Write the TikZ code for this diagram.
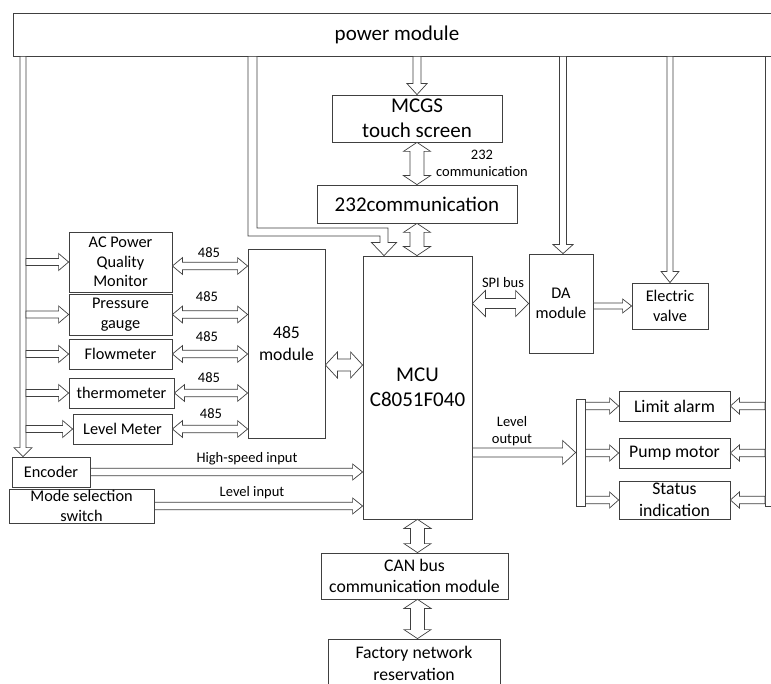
\documentclass[tikz,border=0pt]{standalone}
\usepackage{fontspec}
\setmainfont{Carlito}
\usetikzlibrary{calc}
\newcommand\fs[2]{\fontsize{#1pt}{#2pt}\selectfont}
% single-headed block arrow: from, to, half shaft, half head, head length
\newcommand\sarr[5]{%
\draw[blk] let \p1=(#1), \p2=(#2), \n1={veclen(\x2-\x1,\y2-\y1)}, \n2={(\x2-\x1)/\n1}, \n3={(\y2-\y1)/\n1} in
 ({\x1-(\n3)*#3},{\y1+(\n2)*#3})
 -- ({\x2-(\n2)*#5-(\n3)*#3},{\y2-(\n3)*#5+(\n2)*#3})
 -- ({\x2-(\n2)*#5-(\n3)*#4},{\y2-(\n3)*#5+(\n2)*#4})
 -- (\p2)
 -- ({\x2-(\n2)*#5+(\n3)*#4},{\y2-(\n3)*#5-(\n2)*#4})
 -- ({\x2-(\n2)*#5+(\n3)*#3},{\y2-(\n3)*#5-(\n2)*#3})
 -- ({\x1+(\n3)*#3},{\y1-(\n2)*#3}) -- cycle;}
% double-headed block arrow
\newcommand\darr[5]{%
\draw[blk] let \p1=(#1), \p2=(#2), \n1={veclen(\x2-\x1,\y2-\y1)}, \n2={(\x2-\x1)/\n1}, \n3={(\y2-\y1)/\n1} in
 (\p1)
 -- ({\x1+(\n2)*#5-(\n3)*#4},{\y1+(\n3)*#5+(\n2)*#4})
 -- ({\x1+(\n2)*#5-(\n3)*#3},{\y1+(\n3)*#5+(\n2)*#3})
 -- ({\x2-(\n2)*#5-(\n3)*#3},{\y2-(\n3)*#5+(\n2)*#3})
 -- ({\x2-(\n2)*#5-(\n3)*#4},{\y2-(\n3)*#5+(\n2)*#4})
 -- (\p2)
 -- ({\x2-(\n2)*#5+(\n3)*#4},{\y2-(\n3)*#5-(\n2)*#4})
 -- ({\x2-(\n2)*#5+(\n3)*#3},{\y2-(\n3)*#5-(\n2)*#3})
 -- ({\x1+(\n2)*#5+(\n3)*#3},{\y1+(\n3)*#5-(\n2)*#3})
 -- ({\x1+(\n2)*#5+(\n3)*#4},{\y1+(\n3)*#5-(\n2)*#4}) -- cycle;}
\tikzset{
 box/.style={draw=black!75, line width=0.8pt, fill=white, inner sep=0pt, align=center, text=black},
 tbig/.style={font=\fs{21}{25}},
 tmid/.style={font=\fs{17.7}{21.5}},
 tsml/.style={font=\fs{16.3}{19.6}},
 lbl/.style={font=\fs{14.5}{17}, inner sep=0pt, align=center, text=black},
 blk/.style={draw=black!75, fill=white, line width=0.7pt, line join=miter},
}
\begin{document}
\begin{tikzpicture}[x=1pt,y=-1pt]
\useasboundingbox (0,0) rectangle (771,684);
\clip (0,0) rectangle (771,684);
\fill[white] (0,0) rectangle (771,684);
% nodes
\node[box,tbig,minimum width=768pt,minimum height=43pt] (power) at (397,34.5) {power module};
\node[box,tbig,minimum width=170pt,minimum height=47pt] (mcgs) at (417,118.5) {MCGS\\touch screen};
\node[box,tbig,minimum width=200pt,minimum height=38pt] (c232) at (417,204) {232communication};
\node[box,tbig,minimum width=109pt,minimum height=263pt] (mcu) at (417.5,387.5) {MCU\\C8051F040};
\node[box,tsml,minimum width=103pt,minimum height=60pt] (ac) at (120.5,262) {AC Power\\Quality\\Monitor};
\node[box,tsml,minimum width=103pt,minimum height=41pt] (pg) at (120.5,314.5) {Pressure\\gauge};
\node[box,tsml,minimum width=103pt,minimum height=30pt] (flow) at (120.5,354) {Flowmeter};
\node[box,tsml,minimum width=105pt,minimum height=30pt] (thermo) at (121.5,393) {thermometer};
\node[box,tsml,minimum width=99pt,minimum height=30pt] (level) at (122.5,429) {Level Meter};
\node[box,tmid,minimum width=77pt,minimum height=189pt] (m485) at (286.5,343.5) {485\\module};
\node[box,tsml,minimum width=78pt,minimum height=30pt] (enc) at (51,472) {Encoder};
\node[box,tsml,minimum width=145pt,minimum height=34pt] (mode) at (81.5,506) {Mode selection\\switch};
\node[box,tsml,minimum width=64pt,minimum height=99pt] (da) at (561,303.5) {DA\\module};
\node[box,tsml,minimum width=76pt,minimum height=46pt] (valve) at (670,306) {Electric\\valve};
\node[box,minimum width=9pt,minimum height=107pt] (bar) at (580.5,452.5) {};
\node[box,tmid,minimum width=111pt,minimum height=30pt] (limit) at (674.5,406) {Limit alarm};
\node[box,tmid,minimum width=111pt,minimum height=30pt] (pump) at (674.5,453) {Pump motor};
\node[box,tmid,minimum width=111pt,minimum height=38pt] (status) at (674.5,500) {Status\\indication};
\node[box,tmid,minimum width=187pt,minimum height=46pt] (can) at (414.5,576) {CAN bus\\communication module};
\node[box,tmid,minimum width=172pt,minimum height=49pt] (factory) at (414,663.5) {Factory network\\reservation};
% labels
\node[lbl] (t232) at (482,163.5) {232\\communication};
\node[lbl] (l485a) at (209,253) {485};
\node[lbl] (l485b) at (207,297) {485};
\node[lbl] (l485c) at (207,337) {485};
\node[lbl] (l485d) at (209,378) {485};
\node[lbl] (l485e) at (211,414) {485};
\node[lbl] (ths) at (247,459) {High-speed input};
\node[lbl] (tli) at (252,493) {Level input};
\node[lbl] (tspi) at (503,283) {SPI bus};
\node[lbl] (tlo) at (512,431.5) {Level\\output};
% power distribution coordinates
\coordinate (pl) at (23,0);
\coordinate (lb) at (26,0);
\coordinate (pda) at (563,0);
\coordinate (rbl) at (765,0);
\coordinate (rbr) at (773,506);
\coordinate (ew) at (252.5,232);
\coordinate (ee) at (384,232);
% left power bus down to encoder
\sarr{pl |- power.south}{pl |- enc.north}{3}{9}{9}
\sarr{lb |- ac.west}{ac.west}{3.5}{8.5}{10}
\sarr{lb |- pg.west}{pg.west}{3.5}{8.5}{10}
\sarr{lb |- flow.west}{flow.west}{3.5}{8.5}{10}
\sarr{lb |- thermo.west}{thermo.west}{3.5}{8.5}{10}
\sarr{lb |- level.west}{level.west}{3.5}{8.5}{10}
% elbow power line to MCU
\draw[blk] let \p1=(ew), \p2=(ee), \p3=(power.south), \p4=(mcu.north) in
 ({\x1-4.5pt},\y3) -- ({\x1-4.5pt},{\y1-4pt}) -- ({\x2-4pt},{\y1-4pt}) -- ({\x2-4pt},{\y4+13pt})
 -- ({\x2-12.5pt},{\y4+13pt}) -- (\x2,\y4) -- ({\x2+12.5pt},{\y4+13pt}) -- ({\x2+4pt},{\y4+13pt})
 -- ({\x2+4pt},{\y1+4pt}) -- ({\x1+4.5pt},{\y1+4pt}) -- ({\x1+4.5pt},\y3) -- cycle;
% power to MCGS, DA, valve
\sarr{mcgs.north |- power.south}{mcgs.north}{4}{10}{11}
\sarr{pda |- power.south}{pda |- da.north}{3.5}{10}{9}
\sarr{valve.north |- power.south}{valve.north}{3}{8.8}{11}
% right power bus
\draw[blk] (rbl |- power.south) rectangle (rbr);
\sarr{rbl |- limit.east}{limit.east}{3.8}{8}{9}
\sarr{rbl |- pump.east}{pump.east}{3.8}{8}{9}
\sarr{rbl |- status.east}{status.east}{3.8}{8}{9}
% 485 links
\darr{$(ac.east)+(0,4)$}{$(m485.west |- ac.east)+(0,4)$}{3.8}{8.3}{10}
\darr{pg.east}{m485.west |- pg.east}{3.8}{8.3}{10}
\darr{flow.east}{m485.west |- flow.east}{3.8}{8.3}{10}
\darr{thermo.east}{m485.west |- thermo.east}{3.8}{8.3}{10}
\darr{level.east}{m485.west |- level.east}{3.8}{8.3}{10}
\darr{$(m485.east)+(0,21.5)$}{$(mcu.west |- m485.east)+(0,21.5)$}{6}{13}{12}
% inputs
\sarr{enc.east}{mcu.west |- enc.east}{3.7}{8}{10}
\sarr{mode.east}{mcu.west |- mode.east}{3.7}{8}{10}
% vertical communication
\darr{mcgs.south}{mcgs.south |- c232.north}{7}{13.5}{9}
\darr{c232.south}{c232.south |- mcu.north}{7}{13.5}{9}
\darr{mcu.south}{mcu.south |- can.north}{7}{13.5}{9}
\darr{mcu.south |- can.south}{mcu.south |- factory.north}{7}{13.5}{9}
% SPI and DA
\darr{mcu.east |- da.west}{da.west}{5}{13}{13}
\sarr{da.east |- valve.west}{valve.west}{3}{7}{9}
% level output
\sarr{mcu.east |- bar.west}{bar.west}{4.5}{12}{13}
\sarr{bar.east |- limit.west}{limit.west}{3.8}{8}{9}
\sarr{bar.east |- pump.west}{pump.west}{3.8}{8}{9}
\sarr{bar.east |- status.west}{status.west}{3.8}{8}{9}
\end{tikzpicture}
\end{document}
